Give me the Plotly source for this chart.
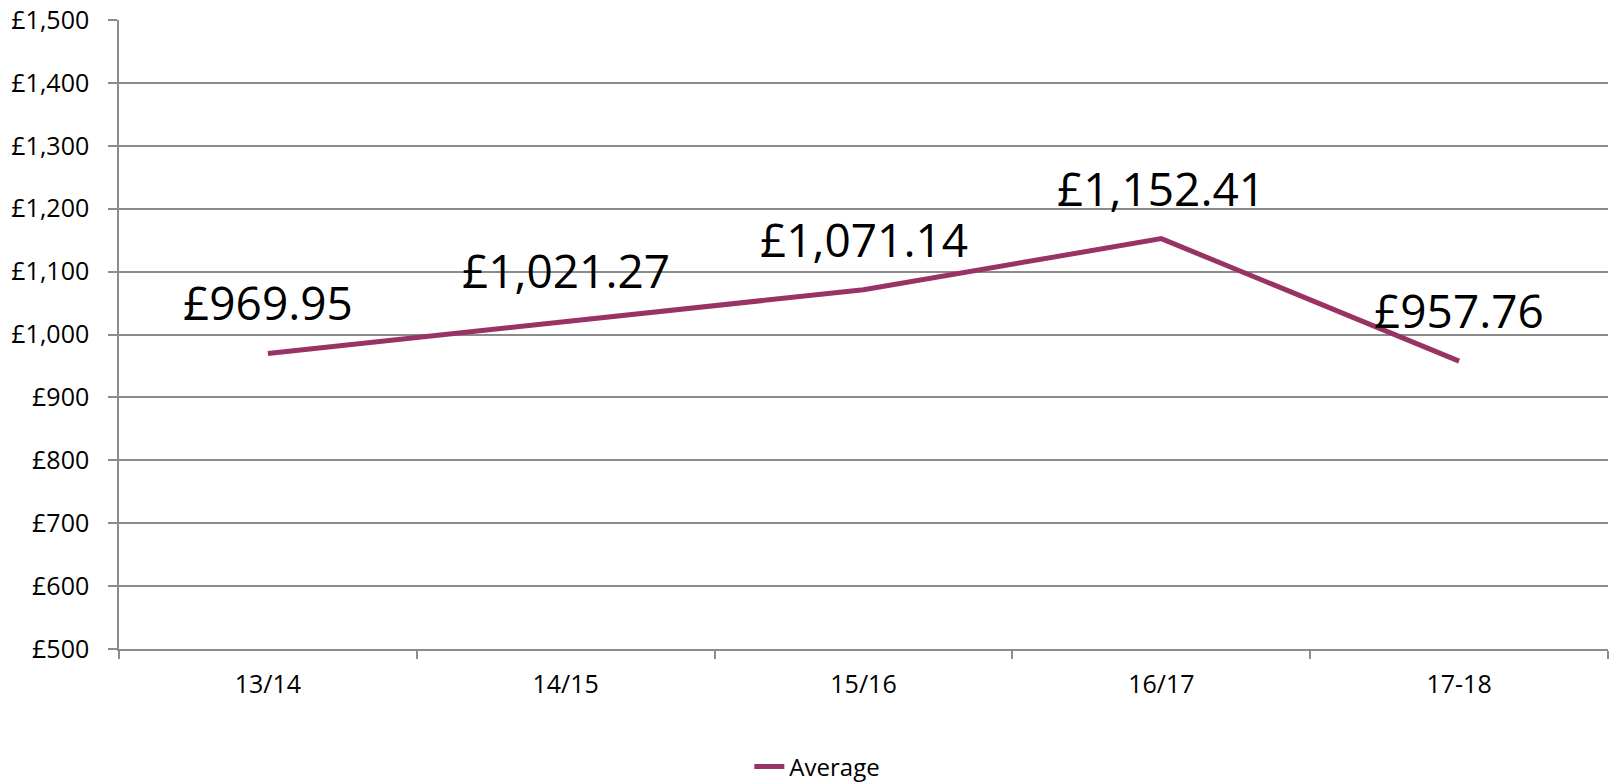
import plotly.graph_objects as go

categories = ["13/14", "14/15", "15/16", "16/17", "17-18"]
average = [969.95, 1021.27, 1071.14, 1152.41, 957.76]
y_ticks = [500, 600, 700, 800, 900, 1000, 1100, 1200, 1300, 1400, 1500]
y_tick_labels = ["£" + format(v, ",") for v in y_ticks]
point_labels = ["£" + format(v, ",.2f") for v in average]

LINE = "#993366"
GRID = "#8c8c8c"
FONT = "Open Sans, Noto Sans, sans-serif"

fig = go.Figure()
fig.add_trace(go.Scatter(
    x=categories, y=average, mode="lines", name="Average",
    line=dict(color=LINE, width=5),
    showlegend=True,
))

for c, v, t in zip(categories, average, point_labels):
    fig.add_annotation(x=c, y=v, text=t, showarrow=False,
                       xanchor="center", yanchor="bottom", yshift=18,
                       font=dict(family=FONT, size=46, color="#000000"))

fig.update_layout(
    width=1612, height=783,
    margin=dict(l=119, r=4, t=20, b=134, autoexpand=False),
    paper_bgcolor="white", plot_bgcolor="white",
    font=dict(family=FONT, size=25, color="#000000"),
    showlegend=True,
    legend=dict(orientation="h", x=0.469, xanchor="center", y=-0.1876, yanchor="middle",
                font=dict(size=24, family=FONT, color="#000000"),
                bgcolor="rgba(0,0,0,0)"),
    xaxis=dict(type="category", range=[-0.5, 4.5], tickson="boundaries",
               ticks="outside", ticklen=8, tickwidth=1.5, tickcolor=GRID,
               showline=True, linecolor=GRID, linewidth=1.5,
               showgrid=False, zeroline=False, automargin=False,
               tickfont=dict(size=25, family=FONT, color="#000000"),
               ticklabelstandoff=12),
    yaxis=dict(range=[500, 1500], tickvals=y_ticks, ticktext=y_tick_labels,
               ticks="outside", ticklen=9, tickwidth=1.5, tickcolor=GRID,
               showline=True, linecolor=GRID, linewidth=1.5,
               showgrid=True, gridcolor=GRID, gridwidth=1.5, zeroline=False,
               automargin=False, ticklabeloverflow="allow",
               tickfont=dict(size=25, family=FONT, color="#000000"),
               ticklabelstandoff=14),
)

fig.write_html("out.html",
               config={"displayModeBar": False},
               post_script="document.body.style.margin='0';document.body.style.overflow='hidden';")
